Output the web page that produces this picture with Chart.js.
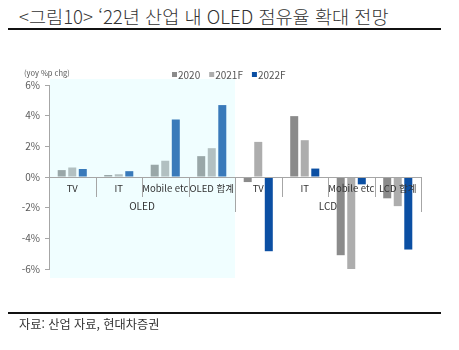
<!DOCTYPE html>
<html lang="ko">
<head>
<meta charset="utf-8">
<script src="https://cdn.jsdelivr.net/npm/chart.js@4"></script>
<style>
  body { margin: 0; background: #fff; }
  #wrap { position: relative; width: 459px; height: 350px; overflow: hidden; font-family: "Noto Sans CJK KR", "Noto Sans", sans-serif; }
  #title { position: absolute; left: 19px; top: 2px; font-size: 18.6px; font-weight: 300; color: #333; white-space: nowrap; }
  .rule { position: absolute; left: 8px; width: 433px; height: 2px; background: #111; }
  #source { position: absolute; left: 19px; top: 315px; font-size: 12.2px; color: #333; white-space: nowrap; }
  canvas { position: absolute; left: 0; top: 0; }
</style>
</head>
<body>
<div id="wrap">
  <div id="title">&lt;그림10&gt; ‘22년 산업 내 OLED 점유율 확대 전망</div>
  <div class="rule" style="top:28px"></div>
  <canvas id="chart" width="459" height="350"></canvas>
  <div class="rule" style="top:312px"></div>
  <div id="source">자료: 산업 자료, 현대차증권</div>
</div>
<script>
const groups = ["OLED", "LCD"];
const categories = ["TV", "IT", "Mobile etc", "OLED 합계", "TV", "IT", "Mobile etc", "LCD 합계"];
const seriesNames = ["2020", "2021F", "2022F"];
const values2020 = [0.45, 0.13, 0.80, 1.36, -0.33, 3.97, -5.10, -1.39];
const values2021F = [0.62, 0.18, 1.06, 1.88, 2.29, 2.40, -6.10, -1.90];
const values2022F = [0.52, 0.38, 3.75, 4.69, -4.84, 0.55, -0.48, -4.73];
const yTicks = [-6, -4, -2, 0, 2, 4, 6];
const unitLabel = "(yoy %p chg)";

const colors = ["#8b8b8b", "#adadad", "#0b4fa3"];
const FONT = '"Noto Sans CJK KR", "Noto Sans", sans-serif';

// overlay, category labels, separators and legend
const decorations = {
  id: "decorations",
  afterDatasetsDraw(chart) {
    const { ctx, chartArea, scales } = chart;
    const x = scales.x, y = scales.y;
    const half = (x.getPixelForValue(1) - x.getPixelForValue(0)) / 2;
    const y0 = y.getPixelForValue(0);
    const groupSize = categories.length / groups.length;
    ctx.save();

    // tinted band over the OLED half
    const bandRight = x.getPixelForValue(groupSize - 1) + half;
    ctx.fillStyle = "rgba(195,250,255,0.25)";
    ctx.fillRect(chartArea.left + 1, y.getPixelForValue(6) - 6, bandRight - chartArea.left - 1, y.getPixelForValue(-6) - y.getPixelForValue(6) + 15);

    // zero line
    ctx.strokeStyle = "#a6a6a6";
    ctx.lineWidth = 1;
    ctx.beginPath();
    ctx.moveTo(chartArea.left, Math.round(y0) + 0.5);
    ctx.lineTo(chartArea.right, Math.round(y0) + 0.5);
    ctx.stroke();

    // separators between categories, longer at group edges
    for (let i = 0; i < categories.length; i++) {
      const sx = Math.round(x.getPixelForValue(i) + half) + 0.5;
      const len = (i + 1) % groupSize === 0 ? 35 : 20;
      ctx.beginPath();
      ctx.moveTo(sx, y0);
      ctx.lineTo(sx, y0 + len);
      ctx.stroke();
    }

    // category labels
    ctx.fillStyle = "#333";
    ctx.textAlign = "center";
    ctx.textBaseline = "middle";
    ctx.font = "9.5px " + FONT;
    categories.forEach((c, i) => ctx.fillText(c, x.getPixelForValue(i), y0 + 11));

    // group labels
    ctx.font = "10px " + FONT;
    groups.forEach((g, k) => {
      const a = x.getPixelForValue(k * groupSize) - half;
      const b = x.getPixelForValue((k + 1) * groupSize - 1) + half;
      ctx.fillText(g, (a + b) / 2, y0 + 29);
    });

    // unit label
    ctx.fillStyle = "#555";
    ctx.textAlign = "left";
    ctx.font = "7.5px " + FONT;
    ctx.fillText(unitLabel, 24, chartArea.top - 12);

    // legend
    ctx.font = "10px " + FONT;
    let lx = chartArea.left + 123;
    const ly = chartArea.top - 10;
    chart.data.datasets.forEach(ds => {
      ctx.fillStyle = ds.backgroundColor;
      ctx.fillRect(lx, ly - 3, 5, 5);
      ctx.fillStyle = "#555";
      ctx.fillText(ds.label, lx + 6, ly);
      lx += 6 + ctx.measureText(ds.label).width + 9;
    });
    ctx.restore();
  }
};

new Chart(document.getElementById("chart"), {
  type: "bar",
  data: {
    labels: categories,
    datasets: [
      { label: seriesNames[0], data: values2020, backgroundColor: colors[0] },
      { label: seriesNames[1], data: values2021F, backgroundColor: colors[1] },
      { label: seriesNames[2], data: values2022F, backgroundColor: colors[2] },
    ],
  },
  options: {
    responsive: false,
    animation: false,
    datasets: { bar: { categoryPercentage: 0.68, barPercentage: 0.76 } },
    layout: { padding: { left: 0, top: 85, right: 38, bottom: 81 } },
    plugins: { legend: { display: false }, tooltip: { enabled: false } },
    scales: {
      x: { display: false },
      y: {
        min: -6,
        max: 6,
        afterFit(scale) { scale.width = 49; },
        afterBuildTicks(scale) { scale.ticks = yTicks.map(v => ({ value: v })); },
        border: { color: "#a6a6a6" },
        grid: { drawOnChartArea: false, drawTicks: true, tickLength: 4, color: "#a6a6a6" },
        ticks: {
          padding: 5,
          color: "#595959",
          font: { family: FONT, size: 10 },
          callback: v => v + "%",
        },
      },
    },
  },
  plugins: [decorations],
});
</script>
</body>
</html>
